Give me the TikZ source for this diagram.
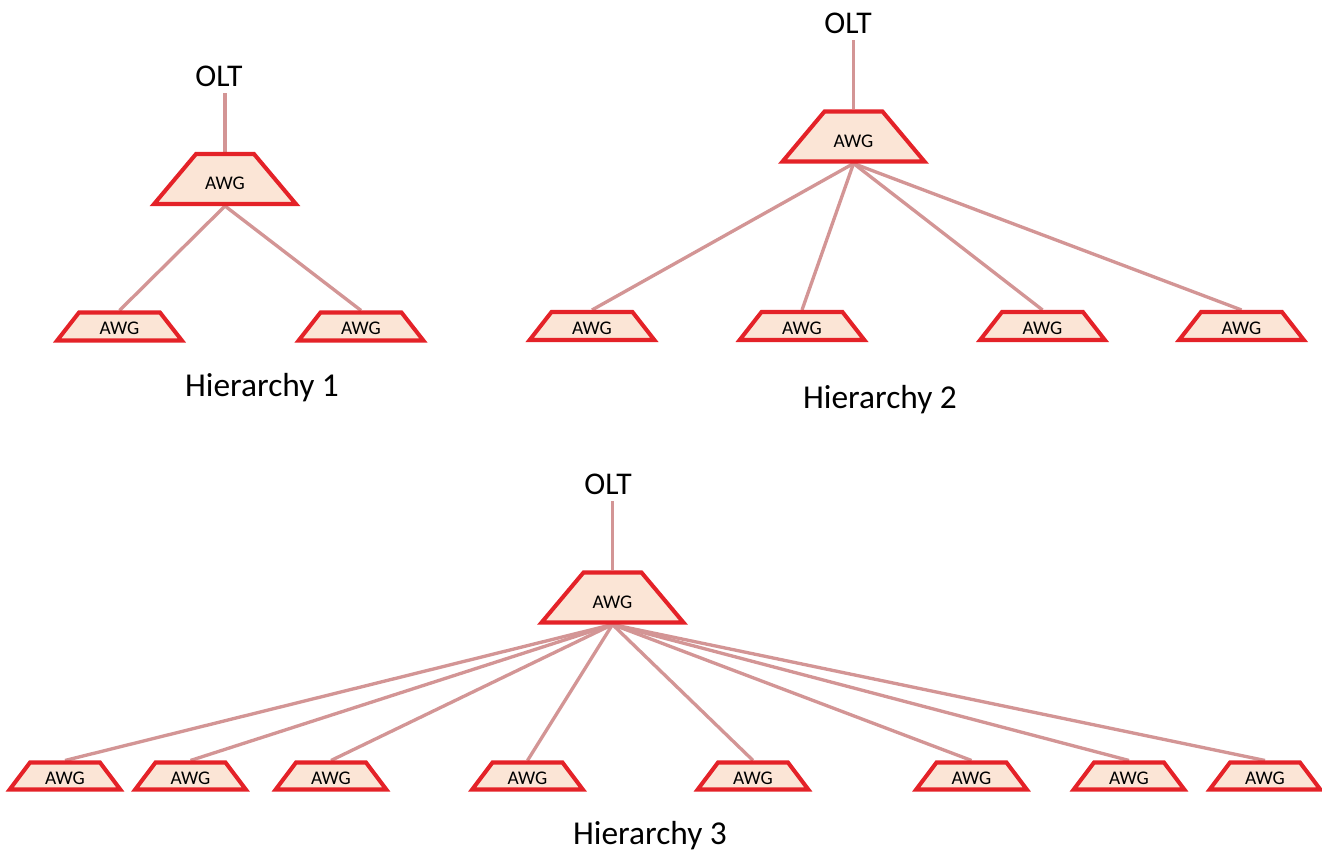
\documentclass[tikz,border=0pt]{standalone}
\usepackage{fontspec}
\setmainfont{Carlito}
\usetikzlibrary{shapes.geometric,backgrounds}
\definecolor{awgfill}{HTML}{FBE5D6}
\definecolor{awgred}{HTML}{E42228}
\definecolor{fibre}{HTML}{D39595}
\begin{document}
\begin{tikzpicture}[x=0.02cm, y=-0.02cm]

\tikzstyle{awgbig}=[trapezium, trapezium left angle=50, trapezium right angle=50, inner sep=0pt, text width=1.16cm, align=center, text height=0.72cm, text depth=0.28cm, draw=awgred, fill=awgfill, line width=2.3pt, font=\fontsize{11}{13}\selectfont]
\tikzstyle{awgsmall}=[trapezium, trapezium left angle=52, trapezium right angle=52, inner sep=0pt, text width=1.62cm, align=center, text height=0.45cm, text depth=0.11cm, draw=awgred, fill=awgfill, line width=2.3pt, font=\fontsize{11}{13}\selectfont]
\tikzstyle{awgtiny}=[awgsmall, trapezium left angle=53, trapezium right angle=53, text width=1.40cm, text height=0.44cm, text depth=0.1cm]
\tikzstyle{olt}=[font=\fontsize{18}{21}\selectfont]
\tikzstyle{caption}=[font=\fontsize{19}{22}\selectfont]
\tikzstyle{fiber}=[draw=fibre, line width=1.9pt]

\useasboundingbox (0,0) rectangle (1322,861);

% Hierarchy 1
\node (O1) [olt] at (219,76) {OLT};
\node (A1) [awgbig] at (225,179) {AWG};
\node (A1a) [awgsmall] at (119.5,326.5) {AWG};
\node (A1b) [awgsmall] at (361,326.5) {AWG};
\node (H1) [caption] at (262,388) {Hierarchy 1};

% Hierarchy 2
\node (O2) [olt] at (848,23) {OLT};
\node (A2) [awgbig] at (853.5,136.5) {AWG};
\node (A2a) [awgsmall] at (592,326) {AWG};
\node (A2b) [awgsmall] at (802,326) {AWG};
\node (A2c) [awgsmall] at (1042.5,326) {AWG};
\node (A2d) [awgsmall] at (1241.5,326) {AWG};
\node (H2) [caption] at (880,400) {Hierarchy 2};

% Hierarchy 3
\node (O3) [olt] at (608,484) {OLT};
\node (A3) [awgbig] at (612.5,597.5) {AWG};
\node (A3a) [awgtiny] at (65,776) {AWG};
\node (A3b) [awgtiny] at (190.5,776) {AWG};
\node (A3c) [awgtiny] at (331,776) {AWG};
\node (A3d) [awgtiny] at (527.5,776) {AWG};
\node (A3e) [awgtiny] at (753,776) {AWG};
\node (A3f) [awgtiny] at (971.5,776) {AWG};
\node (A3g) [awgtiny] at (1129,776) {AWG};
\node (A3h) [awgtiny] at (1265,776) {AWG};
\node (H3) [caption] at (650,836) {Hierarchy 3};

\begin{pgfonlayer}{background}
\draw [fiber] (A1.north) -- (A1.north |- O1.south);
\draw [fiber] (A1.south) -- (A1a.north);
\draw [fiber] (A1.south) -- (A1b.north);

\draw [fiber] (A2.north) -- (A2.north |- O2.south);
\draw [fiber] (A2.south) -- (A2a.north);
\draw [fiber] (A2.south) -- (A2b.north);
\draw [fiber] (A2.south) -- (A2c.north);
\draw [fiber] (A2.south) -- (A2d.north);

\draw [fiber] (A3.north) -- (A3.north |- O3.south);
\draw [fiber] (A3.south) -- (A3a.north);
\draw [fiber] (A3.south) -- (A3b.north);
\draw [fiber] (A3.south) -- (A3c.north);
\draw [fiber] (A3.south) -- (A3d.north);
\draw [fiber] (A3.south) -- (A3e.north);
\draw [fiber] (A3.south) -- (A3f.north);
\draw [fiber] (A3.south) -- (A3g.north);
\draw [fiber] (A3.south) -- (A3h.north);
\end{pgfonlayer}

\end{tikzpicture}
\end{document}
